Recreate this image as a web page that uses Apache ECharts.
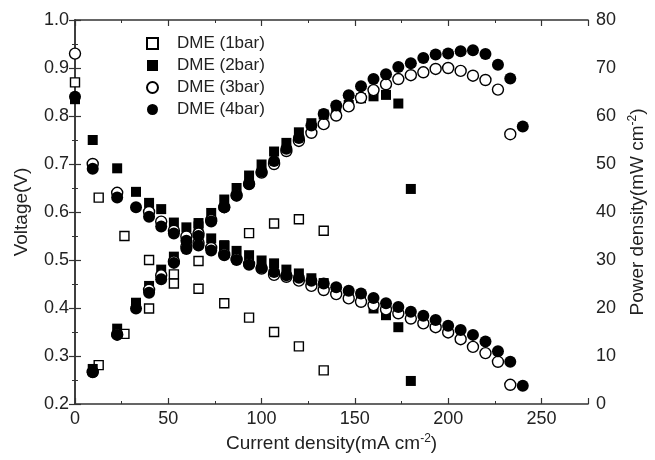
<!DOCTYPE html>
<html>
<head>
<meta charset="utf-8">
<script src="https://cdn.jsdelivr.net/npm/echarts@6/dist/echarts.min.js"></script>
<style>
    html, body { margin: 0; padding: 0; background: #fff; }
    #main { width: 655px; height: 460px; }
</style>
</head>
<body>
<div id="main"></div>
<script>
    // current density (mA cm-2), voltage (V), power density (mW cm-2)
    var cur1 = [0, 12.7, 26.5, 39.7, 53, 66.2, 80, 93.3, 106.7, 120, 133.3];
    var volt1 = [0.87, 0.63, 0.55, 0.50, 0.47, 0.44, 0.41, 0.38, 0.35, 0.32, 0.27];
    var pow1 = [null, 8.1, 14.6, 19.9, 25.1, 29.8, 32.9, 35.6, 37.6, 38.5, 36.1];

    var cur2 = [0, 9.5, 22.6, 32.7, 39.7, 46.2, 53, 59.7, 66.2, 73, 80, 86.6, 93.3, 100, 106.7, 113.3, 120, 126.7, 133.3, 140, 146.7, 153.3, 160, 166.7, 173.3, 180];
    var volt2 = [0.835, 0.75, 0.691, 0.642, 0.619, 0.606, 0.578, 0.568, 0.570, 0.545, 0.531, 0.519, 0.510, 0.499, 0.493, 0.480, 0.472, 0.462, 0.452, 0.440, 0.424, 0.415, 0.399, 0.385, 0.360, 0.248];
    var pow2 = [null, 7.3, 15.7, 21.1, 24.6, 28.0, 30.7, 33.9, 37.7, 39.8, 42.6, 45.0, 47.6, 49.9, 52.6, 54.4, 56.6, 58.5, 60.3, 61.6, 62.3, 63.7, 64.1, 64.4, 62.6, 44.8];

    var cur3 = [0, 9.5, 22.6, 39.7, 46.2, 53, 59.7, 66.2, 73, 80, 86.6, 93.3, 100, 106.7, 113.3, 120, 126.7, 133.3, 140, 146.7, 153.3, 160, 166.7, 173.3, 180, 186.7, 193.3, 200, 206.7, 213.3, 220, 226.7, 233.3];
    var volt3 = [0.93, 0.70, 0.64, 0.60, 0.58, 0.561, 0.549, 0.536, 0.525, 0.512, 0.502, 0.492, 0.482, 0.469, 0.465, 0.457, 0.446, 0.4375, 0.429, 0.420, 0.413, 0.406, 0.397, 0.389, 0.378, 0.368, 0.360, 0.349, 0.335, 0.319, 0.306, 0.288, 0.240];
    var pow3 = [null, 6.7, 14.5, 23.8, 26.8, 29.7, 32.8, 35.5, 38.3, 41.0, 43.5, 45.9, 48.2, 50.0, 52.7, 54.8, 56.5, 58.3, 60.1, 62.0, 63.8, 65.4, 66.6, 67.7, 68.5, 69.1, 69.8, 70.0, 69.4, 68.4, 67.5, 65.5, 56.2];

    var cur4 = [0, 9.5, 22.6, 32.7, 39.7, 46.2, 53, 59.7, 66.2, 73, 80, 86.6, 93.3, 100, 106.7, 113.3, 120, 126.7, 133.3, 140, 146.7, 153.3, 160, 166.7, 173.3, 180, 186.7, 193.3, 200, 206.7, 213.3, 220, 226.7, 233.3, 240];
    var volt4 = [0.84, 0.69, 0.63, 0.61, 0.59, 0.57, 0.555, 0.54, 0.53, 0.52, 0.51, 0.50, 0.49, 0.484, 0.475, 0.468, 0.463, 0.457, 0.451, 0.443, 0.436, 0.430, 0.421, 0.410, 0.402, 0.392, 0.384, 0.375, 0.363, 0.354, 0.344, 0.330, 0.310, 0.288, 0.238];
    var pow4 = [null, 6.6, 14.4, 19.9, 23.2, 26.0, 29.4, 32.3, 35.0, 38.0, 41.0, 43.4, 45.8, 48.4, 50.6, 53.2, 55.4, 58.0, 60.4, 62.2, 64.3, 66.2, 67.7, 68.7, 70.2, 71.0, 72.1, 72.8, 73.0, 73.5, 73.7, 72.9, 70.7, 67.8, 57.8];

    var names = ['DME (1bar)', 'DME (2bar)', 'DME (3bar)', 'DME (4bar)'];
    var xTicks = [0, 50, 100, 150, 200, 250];

    var font = 'Arial, "Liberation Sans", sans-serif';
    var ink = '#222';

    function pairs(xs, ys) {
        var out = [];
        for (var i = 0; i < xs.length; i++) {
            if (ys[i] !== null) out.push([xs[i], ys[i]]);
        }
        return out;
    }

    var looks = [
        {symbol: 'rect', size: 9, fill: '#fff'},
        {symbol: 'rect', size: 10, fill: '#000'},
        {symbol: 'circle', size: 11, fill: '#fff'},
        {symbol: 'circle', size: 12, fill: '#000'}
    ];
    var curs = [cur1, cur2, cur3, cur4];
    var volts = [volt1, volt2, volt3, volt4];
    var pows = [pow1, pow2, pow3, pow4];

    var series = [];
    for (var k = 0; k < 4; k++) {
        var style = {
            color: looks[k].fill,
            opacity: 1,
            borderColor: '#000',
            borderWidth: looks[k].fill === '#fff' ? 1.4 : 0
        };
        series.push({
            name: names[k],
            type: 'scatter',
            xAxisIndex: 0,
            yAxisIndex: 0,
            symbol: looks[k].symbol,
            symbolSize: looks[k].size,
            itemStyle: style,
            data: pairs(curs[k], volts[k])
        });
        series.push({
            name: names[k],
            type: 'scatter',
            xAxisIndex: 0,
            yAxisIndex: 1,
            symbol: looks[k].symbol,
            symbolSize: looks[k].size,
            itemStyle: style,
            data: pairs(curs[k], pows[k])
        });
    }

    var axisLine = {show: true, lineStyle: {color: '#333', width: 1.5}};
    var tick = {show: true, inside: true, length: 6, lineStyle: {color: '#333', width: 1.2}};
    var minor = {show: true, splitNumber: 2, length: 3, lineStyle: {color: '#333', width: 1}};
    var sup = {sup: {fontSize: 12, verticalAlign: 'top', padding: [0, 0, 9, 0], color: ink}};

    var myChart = echarts.init(document.getElementById('main'));
    var option = {
        backgroundColor: '#fff',
        animation: false,
        textStyle: {fontFamily: font},
        legend: {
            orient: 'vertical',
            left: 141,
            top: 30,
            itemWidth: 11,
            itemHeight: 11,
            itemGap: 5,
            data: names,
            textStyle: {fontSize: 17, color: ink, fontFamily: font, padding: [0, 0, 0, 14]}
        },
        grid: {left: 75, right: 61, top: 20, bottom: 56, containLabel: false},
        xAxis: [{
            type: 'value',
            min: 0,
            max: 275,
            interval: 50,
            name: 'Current density(mA cm{sup|-2})',
            nameLocation: 'middle',
            nameGap: 26,
            nameTextStyle: {fontSize: 19, color: ink, fontFamily: font, rich: sup},
            axisLine: axisLine,
            axisTick: tick,
            minorTick: minor,
            splitLine: {show: false},
            axisLabel: {
                fontSize: 18, color: ink, margin: 6,
                formatter: function (v) { return xTicks.indexOf(v) >= 0 ? String(v) : ''; }
            }
        }, {
            type: 'value',
            position: 'top',
            min: 0,
            max: 275,
            interval: 50,
            axisLine: axisLine,
            axisTick: tick,
            minorTick: minor,
            splitLine: {show: false},
            axisLabel: {show: false}
        }],
        yAxis: [{
            type: 'value',
            min: 0.2,
            max: 1.0,
            interval: 0.1,
            name: 'Voltage(V)',
            nameLocation: 'middle',
            nameGap: 44,
            nameRotate: 90,
            nameTextStyle: {fontSize: 19, color: ink, fontFamily: font},
            axisLine: axisLine,
            axisTick: tick,
            minorTick: minor,
            splitLine: {show: false},
            axisLabel: {
                fontSize: 18, color: ink, margin: 6,
                formatter: function (v) { return v.toFixed(1); }
            }
        }, {
            type: 'value',
            position: 'right',
            min: 0,
            max: 80,
            interval: 10,
            name: 'Power density(mW cm{sup|-2})',
            nameLocation: 'middle',
            nameGap: 37,
            nameRotate: 90,
            nameTextStyle: {fontSize: 19, color: ink, fontFamily: font, rich: sup},
            axisLine: axisLine,
            axisTick: tick,
            minorTick: minor,
            splitLine: {show: false},
            axisLabel: {fontSize: 18, color: ink, margin: 8}
        }],
        series: series
    };
    myChart.setOption(option);
</script>
</body>
</html>
